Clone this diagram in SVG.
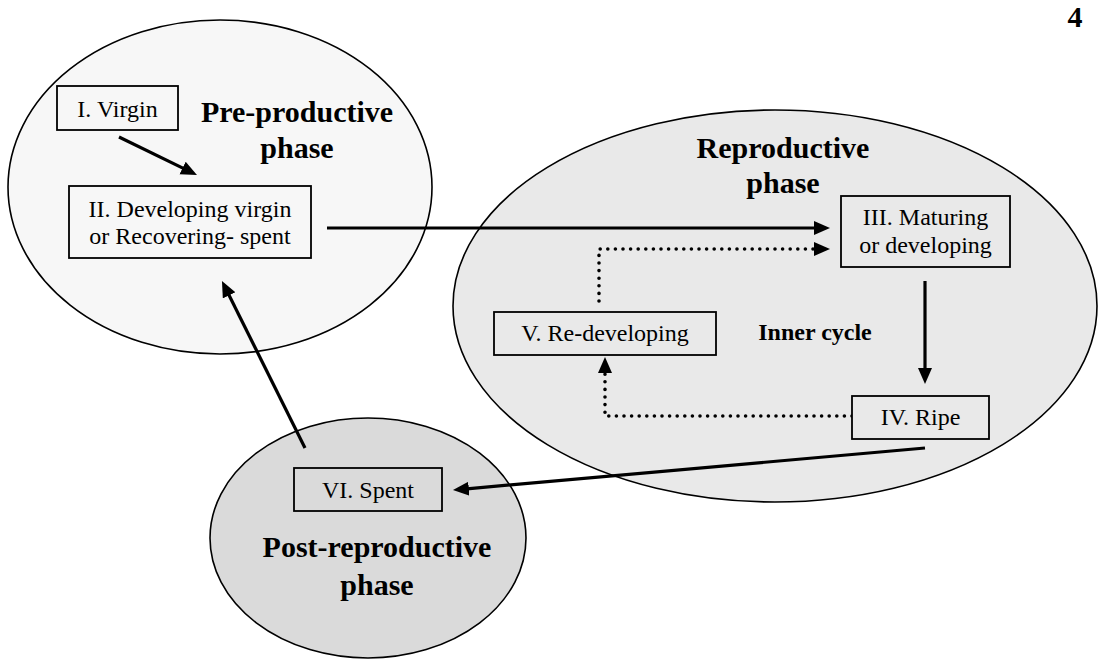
<svg xmlns="http://www.w3.org/2000/svg" width="1098" height="659" viewBox="0 0 1098 659">
<style>
.ell{stroke:#000;stroke-width:1.6}
.box{stroke:#000;stroke-width:1.8}
.t{font-family:"Liberation Serif","Times New Roman",serif;font-size:24px;fill:#000;text-anchor:middle}
.h{font-family:"Liberation Serif","Times New Roman",serif;font-size:30px;font-weight:bold;fill:#000;text-anchor:middle}
.ib{font-family:"Liberation Serif","Times New Roman",serif;font-size:24px;font-weight:bold;fill:#000;text-anchor:middle}
.solid{fill:none;stroke:#000;stroke-width:3.2}
.dot{fill:none;stroke:#000;stroke-width:3.6;stroke-linecap:round;stroke-dasharray:0 7.6}
</style>
<defs>
<marker id="ah" markerUnits="userSpaceOnUse" markerWidth="18" markerHeight="16" refX="2" refY="7" orient="auto">
<path d="M0,0 L16,7 L0,14 z" fill="#000"/>
</marker>
</defs>
<rect width="1098" height="659" fill="#fff"/>
<g id="pre-phase">
<ellipse class="ell" cx="220" cy="187" rx="212" ry="167" fill="#f7f7f7"/>
<text class="h" x="297" y="122">Pre-productive</text>
<text class="h" x="297" y="158">phase</text>
</g>
<g id="repro-phase">
<ellipse class="ell" cx="775" cy="306" rx="322" ry="196" fill="#e9e9e9"/>
<text class="h" x="783" y="158">Reproductive</text>
<text class="h" x="783" y="193">phase</text>
<text class="ib" x="815" y="340">Inner cycle</text>
</g>
<g id="post-phase">
<ellipse class="ell" cx="368" cy="538" rx="158" ry="120" fill="#dadada"/>
<text class="h" x="377" y="557">Post-reproductive</text>
<text class="h" x="377" y="595">phase</text>
</g>
<g id="label-4">
<text class="h" x="1075" y="27">4</text>
</g>
<g id="connectors">
<line class="solid" x1="119" y1="137" x2="184.4" y2="168.9" marker-end="url(#ah)"/>
<line class="solid" x1="327" y1="228" x2="816" y2="228" marker-end="url(#ah)"/>
<path class="dot" d="M599,301 L599,249 L816,249" marker-end="url(#ah)"/>
<line class="solid" x1="925" y1="281" x2="925" y2="370" marker-end="url(#ah)"/>
<path class="dot" d="M852,416 L605,416 L605,371" marker-end="url(#ah)"/>
<line class="solid" x1="925" y1="448" x2="466.9" y2="488.8" marker-end="url(#ah)"/>
<line class="solid" x1="305" y1="448" x2="228.2" y2="293.5" marker-end="url(#ah)"/>
</g>
<g id="node-I">
<rect class="box" x="57" y="86" width="121" height="44" fill="#f7f7f7"/>
<text class="t" x="117.5" y="117">I. Virgin</text>
</g>
<g id="node-II">
<rect class="box" x="69" y="186" width="242" height="72" fill="#f7f7f7"/>
<text class="t" x="190" y="217">II. Developing virgin</text>
<text class="t" x="190" y="244">or Recovering- spent</text>
</g>
<g id="node-III">
<rect class="box" x="841" y="196" width="169" height="71" fill="#e9e9e9"/>
<text class="t" x="925.5" y="225">III. Maturing</text>
<text class="t" x="925.5" y="253">or developing</text>
</g>
<g id="node-IV">
<rect class="box" x="852" y="396" width="137" height="43" fill="#e9e9e9"/>
<text class="t" x="920.5" y="425">IV. Ripe</text>
</g>
<g id="node-V">
<rect class="box" x="494" y="312" width="222" height="43" fill="#e9e9e9"/>
<text class="t" x="605" y="341">V. Re-developing</text>
</g>
<g id="node-VI">
<rect class="box" x="294" y="468" width="148" height="43" fill="#dadada"/>
<text class="t" x="368" y="498">VI. Spent</text>
</g>
</svg>
